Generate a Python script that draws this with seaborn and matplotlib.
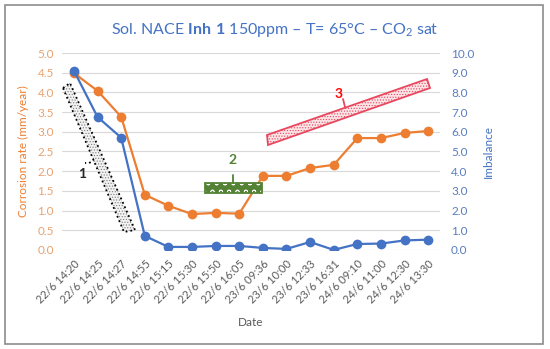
import matplotlib
matplotlib.use("Agg")
import matplotlib.pyplot as plt
import seaborn as sns
from matplotlib.patches import Polygon, Rectangle
from matplotlib.lines import Line2D

# data
dates = ["22/6 14:20", "22/6 14:25", "22/6 14:27", "22/6 14:55", "22/6 15:15",
         "22/6 15:30", "22/6 15:50", "22/6 16:05", "23/6 09:36", "23/6 10:00",
         "23/6 12:33", "23/6 16:31", "24/6 09:10", "24/6 11:00", "24/6 12:30",
         "24/6 13:30"]
corrosion = [4.49, 4.04, 3.38, 1.40, 1.12, 0.91, 0.94, 0.92, 1.88, 1.88,
             2.08, 2.16, 2.84, 2.84, 2.97, 3.02]
imbalance = [9.1, 6.75, 5.7, 0.71, 0.15, 0.15, 0.2, 0.2, 0.1, 0.05,
             0.4, 0.0, 0.3, 0.32, 0.48, 0.52]
left_ticks = [0.0, 0.5, 1.0, 1.5, 2.0, 2.5, 3.0, 3.5, 4.0, 4.5, 5.0]
right_ticks = [0.0, 1.0, 2.0, 3.0, 4.0, 5.0, 6.0, 7.0, 8.0, 9.0, 10.0]

ORANGE = "#ED7D31"
BLUE = "#4472C4"

sns.set_style("white")
plt.rcParams["font.family"] = ["Lato", "DejaVu Sans"]
plt.rcParams["mathtext.fontset"] = "custom"
plt.rcParams["mathtext.rm"] = "Lato"
plt.rcParams["mathtext.bf"] = "Lato:bold"
plt.rcParams["hatch.linewidth"] = 0.5

fig = plt.figure(figsize=(5.5, 3.49), dpi=100)
ax = fig.add_axes([0.113, 0.284, 0.687, 0.564])
ax2 = ax.twinx()

# gridlines
for v in left_ticks:
    ax.axhline(v, color="#D9D9D9", lw=0.8, zorder=0)

sns.lineplot(x=dates, y=corrosion, ax=ax, sort=False, color=ORANGE, lw=1.6,
             marker="o", markersize=7, markeredgewidth=0, zorder=3)
sns.lineplot(x=dates, y=imbalance, ax=ax2, sort=False, color=BLUE, lw=1.6,
             marker="o", markersize=7, markeredgewidth=0, zorder=3)

ax.set_xlim(-0.5, len(dates) - 0.5)
ax.set_ylim(0, 5.0)
ax2.set_ylim(0, 10.0)
ax.set_yticks(left_ticks)
ax.set_yticklabels([f"{v:.1f}" for v in left_ticks], color="#E9A26F", fontsize=8.5)
ax2.set_yticks(right_ticks)
ax2.set_yticklabels([f"{v:.1f}" for v in right_ticks], color="#5A7DBE", fontsize=8.5)
ax.set_xticks(range(len(dates)))
ax.set_xticklabels(dates, rotation=45, ha="right", rotation_mode="anchor",
                   fontsize=8, color="#595959")
ax.tick_params(axis="both", length=0, pad=6)
ax2.tick_params(axis="y", length=0, pad=8)
for a in (ax, ax2):
    for s in a.spines.values():
        s.set_visible(False)

ax.set_ylabel("Corrosion rate (mm/year)", color=ORANGE, fontsize=8.5, labelpad=6)
ax2.set_ylabel("Imbalance", color=BLUE, fontsize=8.5, labelpad=6)
ax.set_xlabel("Date", color="#595959", fontsize=8.5, labelpad=8)

fig.text(0.5, 1 - 30 / 349, r"Sol. NACE $\mathbf{Inh\ 1}$ 150ppm – T= 65°C – CO$_2$ sat",
         ha="center", va="center", color=BLUE, fontsize=11.5)


# annotation shapes, placed in picture pixel positions
def px(x, y):
    return (x / 550, 1 - y / 349)


def shape(points, edge, face, hatch, hatch_color, ls="-"):
    pts = [px(*p) for p in points]
    fig.patches.append(Polygon(pts, closed=True, transform=fig.transFigure,
                               facecolor=face, edgecolor=hatch_color, hatch=hatch,
                               lw=0, zorder=5))
    fig.patches.append(Polygon(pts, closed=True, transform=fig.transFigure,
                               fill=False, edgecolor=edge, lw=1.3, linestyle=ls,
                               zorder=6))


def stem(points, color, ls="-"):
    xs, ys = zip(*[px(*p) for p in points])
    fig.lines.append(Line2D(xs, ys, transform=fig.transFigure, color=color,
                            lw=1.3, linestyle=ls))


shape([(63, 88), (70, 83), (135, 230), (124, 232)], "black", "#F2F2F2",
      "......", "#7F7F7F", ls=":")
stem([(95, 160), (89, 163), (85, 163)], "black", ls=":")
fig.text(*px(82, 174), "1", fontsize=10, fontweight="bold", ha="center", va="center")

shape([(205, 193), (205, 183), (262, 183), (262, 193)], "#548235", "#548235",
      "oo", "white")
stem([(233, 183), (233, 175)], "#548235")
fig.text(*px(233, 160), "2", fontsize=10, fontweight="bold", color="#548235",
         ha="center", va="center")

shape([(268, 145), (267, 135), (427, 79), (430, 88)], "#E8485F", "#FBE4E6",
      "......", "#E8485F")
stem([(345, 107), (343, 99)], "#E8485F")
fig.text(*px(339, 94), "3", fontsize=10, fontweight="bold", color="#FF0000",
         ha="center", va="center")

# outer frame
fig.patches.append(Rectangle(px(5, 344), 538 / 550, 339 / 349, transform=fig.transFigure,
                             fill=False, edgecolor="#8C8C8C", lw=1.2))

fig.savefig("out.png", dpi=100)
